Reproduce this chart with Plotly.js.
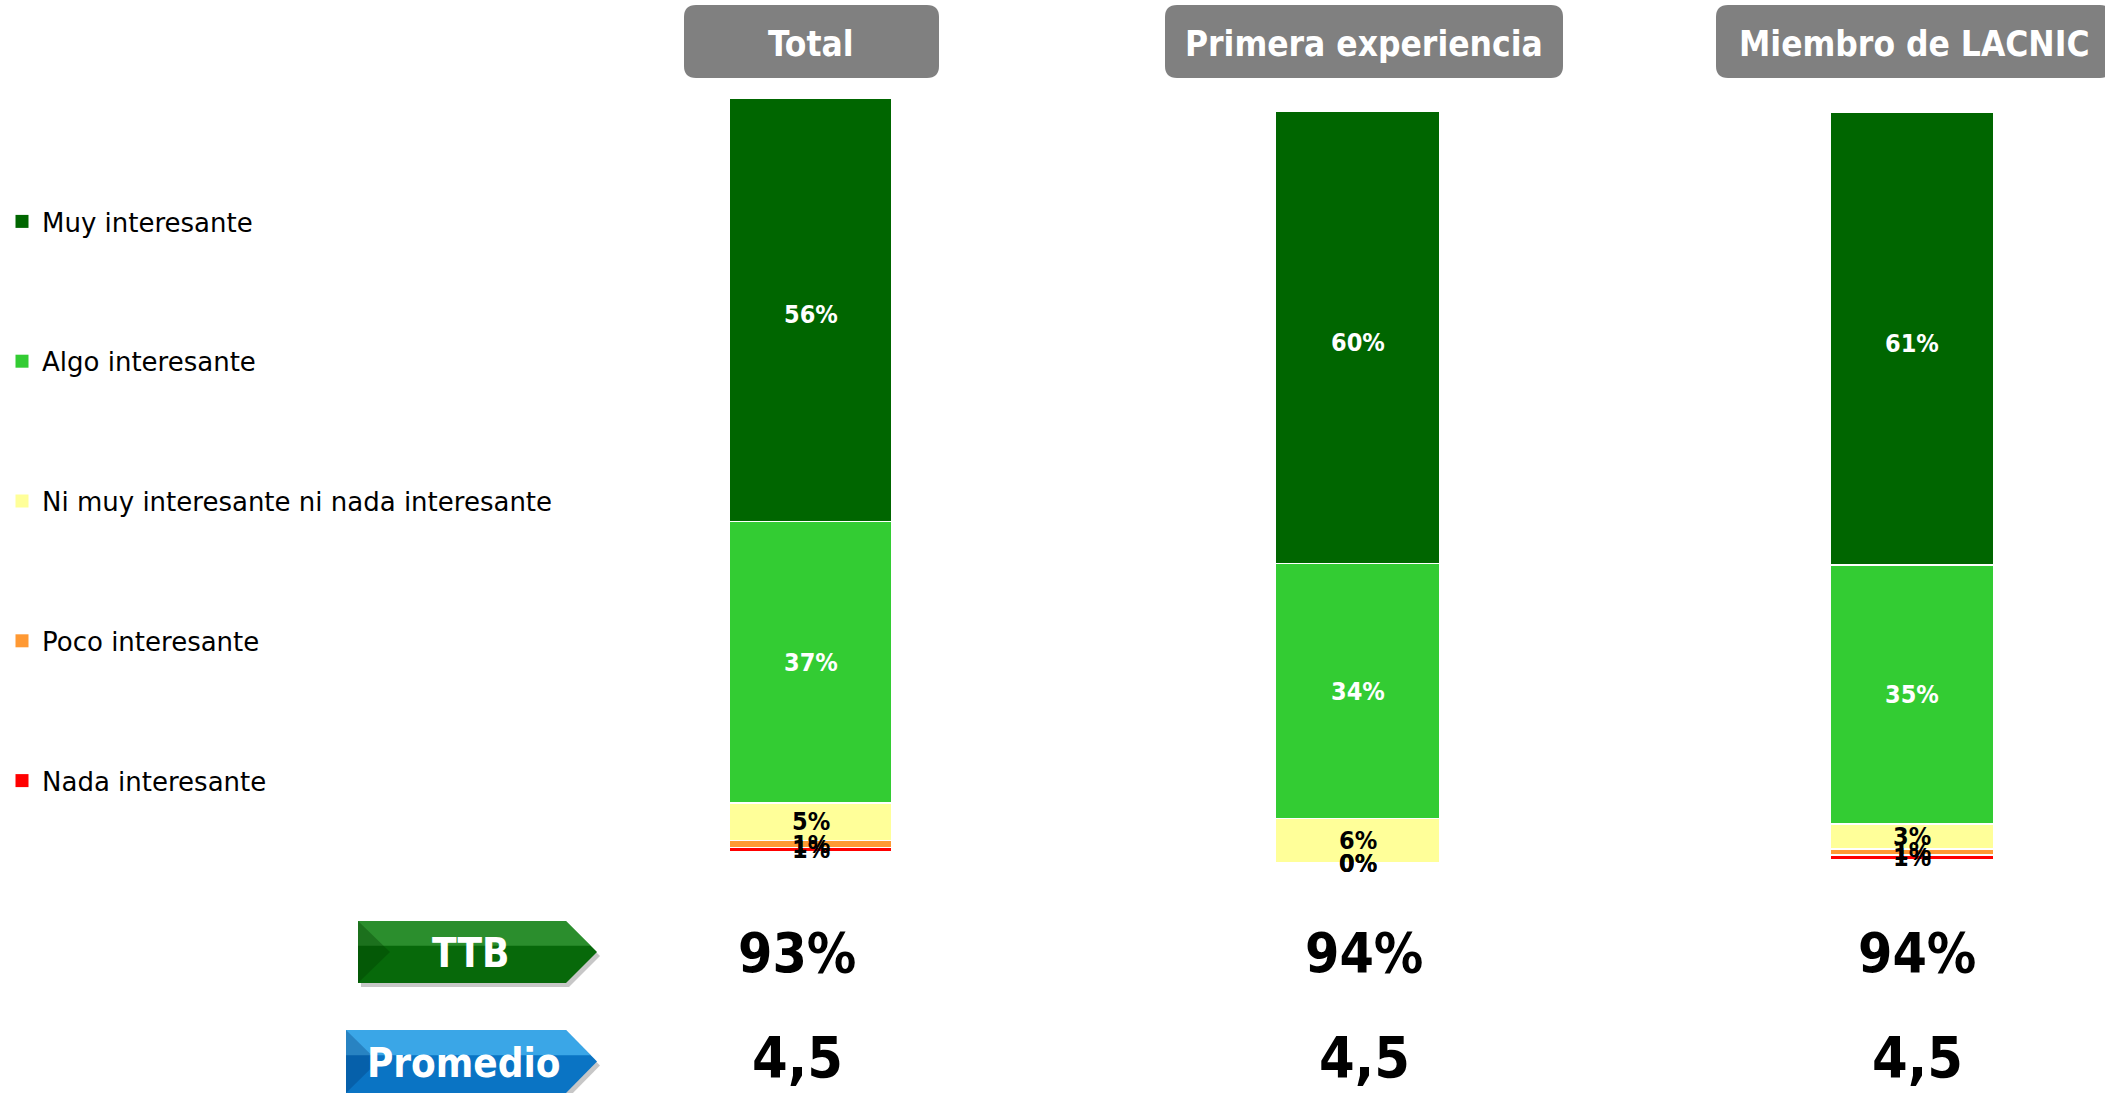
<!DOCTYPE html>
<html>
<head>
<meta charset="utf-8">
<script src="https://cdn.plot.ly/plotly-3.0.1.min.js"></script>
<style>html,body{margin:0;padding:0;background:#fff;}#chart{width:2105px;height:1093px;}</style>
</head>
<body>
<div id="chart"></div>
<script>
// ---- data ----
const groups = ['Total', 'Primera experiencia', 'Miembro de LACNIC'];
const categories = ['Muy interesante', 'Algo interesante', 'Ni muy interesante ni nada interesante', 'Poco interesante', 'Nada interesante'];
const muy = [56.2, 60.2, 60.6];
const algo = [37.4, 33.9, 34.7];
const ni = [5.0, 5.9, 3.3];
const poco = [0.9, 0, 0.8];
const nada = [0.6, 0, 0.7];
const ttb = [93, 94, 94];
const promedio = [4.5, 4.5, 4.5];

// ---- style / layout helpers ----
const W = 2105, H = 1093;
const colors = ['#006600', '#33CC33', '#FFFF99', '#FF9933', '#FF0000'];
const labelColors = ['#FFFFFF', '#FFFFFF', '#000000', '#000000', '#000000'];
const FONT = '"DejaVu Sans Condensed", "DejaVu Sans", sans-serif';
const px = x => x / W;
const py = y => 1 - y / H;

const panels = [
  {bx0: 729, bx1: 892, by0: 99, by1: 852, hx0: 684, hx1: 939, cx: 811, vx: 797},
  {bx0: 1275, bx1: 1440, by0: 111, by1: 863, hx0: 1165, hx1: 1563, cx: 1364, vx: 1364},
  {bx0: 1830, bx1: 1994, by0: 113, by1: 860, hx0: 1716, hx1: 2112, cx: 1914, vx: 1917}
];

const seriesTopDown = [muy, algo, ni, poco, nada];
// stacking order: bottom first
const stackIdx = [4, 3, 2, 1, 0];

const traces = [];
const annotations = [];
const shapes = [];
const layout = {
  width: W, height: H,
  margin: {l: 0, r: 0, t: 0, b: 0},
  paper_bgcolor: '#FFFFFF', plot_bgcolor: 'rgba(0,0,0,0)',
  barmode: 'stack', bargap: 0,
  font: {family: FONT, color: '#000'},
  showlegend: true,
  legend: {
    x: px(2), y: py(198), xanchor: 'left', yanchor: 'top',
    traceorder: 'grouped', tracegroupgap: 103,
    font: {family: '"DejaVu Sans", sans-serif', size: 26, color: '#000'},
    bgcolor: 'rgba(0,0,0,0)', borderwidth: 0
  },
  annotations: annotations,
  shapes: shapes
};

// legend entries (square swatches)
categories.forEach((c, i) => {
  traces.push({
    type: 'scatter', mode: 'markers', x: [null], y: [null], name: c,
    xaxis: 'x', yaxis: 'y',
    marker: {symbol: 'square', size: 13, color: colors[i]},
    legendgroup: c, showlegend: true, hoverinfo: 'skip'
  });
});

panels.forEach((p, gi) => {
  const sfx = gi === 0 ? '' : String(gi + 1);
  layout['xaxis' + sfx] = {
    domain: [px(p.bx0), px(p.bx1)], anchor: 'y' + sfx, type: 'category',
    range: [-0.5, 0.5], visible: false, fixedrange: true
  };
  layout['yaxis' + sfx] = {
    domain: [py(p.by1), py(p.by0)], anchor: 'x' + sfx,
    range: [0, 100], visible: false, fixedrange: true
  };
  let cum = 0;
  stackIdx.forEach(si => {
    const v = seriesTopDown[si][gi];
    traces.push({
      type: 'bar', x: [groups[gi]], y: [v], name: categories[si],
      xaxis: 'x' + sfx, yaxis: 'y' + sfx,
      marker: {color: colors[si], line: {color: '#FFFFFF', width: 1.5}},
      legendgroup: categories[si], showlegend: false,
      hoverinfo: 'skip'
    });
    annotations.push({
      xref: 'x' + sfx, yref: 'y' + sfx, x: groups[gi], y: cum + v / 2,
      text: '<b>' + Math.round(v) + '%</b>', showarrow: false,
      font: {family: FONT, size: 25, color: labelColors[si]},
      xanchor: 'center', yanchor: 'middle', yshift: si === 0 ? -5 : 0
    });
    cum += v;
  });

  // header box
  const x0 = p.hx0, x1 = p.hx1, y0 = 5, y1 = 78, r = 12;
  const path = `M${px(x0 + r)},${py(y0)} L${px(x1 - r)},${py(y0)} Q${px(x1)},${py(y0)} ${px(x1)},${py(y0 + r)} ` +
    `L${px(x1)},${py(y1 - r)} Q${px(x1)},${py(y1)} ${px(x1 - r)},${py(y1)} L${px(x0 + r)},${py(y1)} ` +
    `Q${px(x0)},${py(y1)} ${px(x0)},${py(y1 - r)} L${px(x0)},${py(y0 + r)} Q${px(x0)},${py(y0)} ${px(x0 + r)},${py(y0)} Z`;
  shapes.push({type: 'path', xref: 'paper', yref: 'paper', path: path, fillcolor: '#808080', line: {width: 0}, layer: 'below'});
  annotations.push({
    xref: 'paper', yref: 'paper', x: px(p.cx), y: py(44), text: '<b>' + groups[gi] + '</b>',
    showarrow: false, xanchor: 'center', yanchor: 'middle',
    font: {family: FONT, size: 35, color: '#FFFFFF'}
  });

  // TTB and promedio values
  annotations.push({
    xref: 'paper', yref: 'paper', x: px(p.vx), y: py(953), text: '<b>' + ttb[gi] + '%</b>',
    showarrow: false, xanchor: 'center', yanchor: 'middle',
    font: {family: FONT, size: 55, color: '#000'}
  });
  annotations.push({
    xref: 'paper', yref: 'paper', x: px(p.vx), y: py(1058), text: '<b>' + promedio[gi].toFixed(1).replace('.', ',') + '</b>',
    showarrow: false, xanchor: 'center', yanchor: 'middle',
    font: {family: FONT, size: 57, color: '#000'}
  });
});

// arrow badges
function poly(pts) {
  return 'M' + pts.map(q => px(q[0]) + ',' + py(q[1])).join(' L') + ' Z';
}
function arrow(x0, xb, xt, y0, y1, base, light, dark, label, tx) {
  const h = y1 - y0, ym = (y0 + y1) / 2;
  shapes.push({type: 'path', xref: 'paper', yref: 'paper', line: {width: 0}, fillcolor: 'rgba(0,0,0,0.22)',
    path: poly([[x0 + 3, y0 + 4], [xb + 3, y0 + 4], [xt + 3, ym + 4], [xb + 3, y1 + 4], [x0 + 3, y1 + 4]])});
  shapes.push({type: 'path', xref: 'paper', yref: 'paper', line: {width: 0}, fillcolor: base,
    path: poly([[x0, y0], [xb, y0], [xt, ym], [xb, y1], [x0, y1]])});
  shapes.push({type: 'path', xref: 'paper', yref: 'paper', line: {width: 0}, fillcolor: light,
    path: poly([[x0, y0], [xb, y0], [xb + 0.8 * (xt - xb), y0 + 0.4 * h], [x0, y0 + 0.4 * h]])});
  shapes.push({type: 'path', xref: 'paper', yref: 'paper', line: {width: 0}, fillcolor: dark,
    path: poly([[x0, y0], [x0 + 32, ym], [x0, y1]])});
  annotations.push({
    xref: 'paper', yref: 'paper', x: px(tx), y: py(ym + 1), text: '<b>' + label + '</b>',
    showarrow: false, xanchor: 'center', yanchor: 'middle',
    font: {family: FONT, size: 40, color: '#FFFFFF'}
  });
}
arrow(358, 566, 597, 921, 983, '#07690A', 'rgba(80,180,80,0.5)', 'rgba(0,60,0,0.35)', 'TTB', 470);
arrow(346, 566, 597, 1030, 1093, '#0A74C4', 'rgba(90,200,255,0.6)', 'rgba(0,50,110,0.3)', 'Promedio', 464);

Plotly.newPlot('chart', traces, layout, {displayModeBar: false, staticPlot: true});
</script>
</body>
</html>
